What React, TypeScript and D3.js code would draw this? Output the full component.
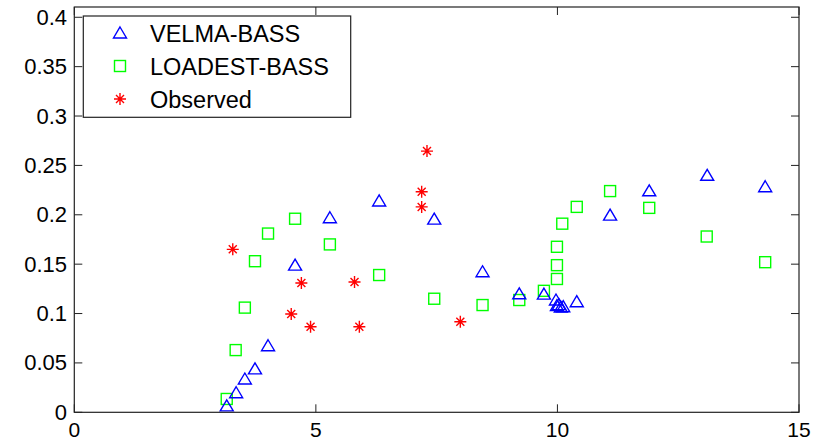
import React from "react";
import * as d3 from "d3";

const velmaX = [3.155, 3.35, 3.53, 3.74, 4.01, 4.57, 5.29, 6.31, 7.45, 8.45, 9.21, 9.72, 9.97, 9.99, 10.03, 10.07, 10.12, 10.4, 11.09, 11.9, 13.1, 14.3];
const velmaY = [0.0065, 0.0198, 0.0337, 0.044, 0.0674, 0.149, 0.197, 0.214, 0.1956, 0.1423, 0.12, 0.1197, 0.1137, 0.108, 0.109, 0.1066, 0.1069, 0.112, 0.1997, 0.2243, 0.24, 0.2284];

const loadestX = [3.155, 3.34, 3.53, 3.74, 4.01, 4.57, 5.29, 6.31, 7.45, 8.45, 9.21, 9.72, 9.99, 9.99, 9.99, 10.1, 10.4, 11.09, 11.9, 13.09, 14.3];
const loadestY = [0.0135, 0.063, 0.106, 0.153, 0.181, 0.196, 0.17, 0.139, 0.115, 0.1086, 0.1137, 0.123, 0.135, 0.149, 0.1676, 0.191, 0.208, 0.224, 0.207, 0.178, 0.152];

const obsX = [3.28, 4.49, 4.7, 4.89, 5.8, 5.9, 7.19, 7.19, 7.3, 7.99];
const obsY = [0.165, 0.0995, 0.131, 0.0867, 0.132, 0.0867, 0.2233, 0.208, 0.2645, 0.0917];

const xTicks = [0, 5, 10, 15];
const yTicks = [0, 0.05, 0.1, 0.15, 0.2, 0.25, 0.3, 0.35, 0.4];
const legendLabels = ["VELMA-BASS", "LOADEST-BASS", "Observed"];

const W = 828;
const H = 443;
const left = 74.3;
const right = 799;
const top = 7;
const bottom = 412.3;
const font = "'Liberation Sans', Arial, sans-serif";

const x = d3.scaleLinear().domain([0, 15]).range([left, right]);
const y = d3.scaleLinear().domain([0, 0.4104]).range([bottom, top]);

const Tri = ({ cx, cy }: { cx: number; cy: number }) => (
  <path
    d={`M${cx},${cy - 6}L${cx + 6.5},${cy + 5}L${cx - 6.5},${cy + 5}Z`}
    fill="none"
    stroke="#0000ff"
    strokeWidth={1.4}
  />
);

const Sq = ({ cx, cy }: { cx: number; cy: number }) => (
  <rect x={cx - 5.5} y={cy - 5.5} width={11} height={11} fill="none" stroke="#00ff00" strokeWidth={1.4} />
);

const Star = ({ cx, cy }: { cx: number; cy: number }) => (
  <path
    d={`M${cx - 6},${cy}H${cx + 6}M${cx},${cy - 6}V${cy + 6}M${cx - 4},${cy - 4}L${cx + 4},${cy + 4}M${cx - 4},${cy + 4}L${cx + 4},${cy - 4}`}
    stroke="#ff0000"
    strokeWidth={1.4}
  />
);

const fmt = (v: number) => (v === 0 ? "0" : String(+v.toFixed(2)));

export default function App() {
  return (
    <svg width={W} height={H} style={{ position: "absolute", left: 0, top: 0, background: "#fff" }}>
      {/* markers */}
      {loadestX.map((v, i) => (
        <Sq key={"s" + i} cx={x(v)} cy={y(loadestY[i])} />
      ))}
      {velmaX.map((v, i) => (
        <Tri key={"t" + i} cx={x(v)} cy={y(velmaY[i])} />
      ))}
      {obsX.map((v, i) => (
        <Star key={"o" + i} cx={x(v)} cy={y(obsY[i])} />
      ))}

      {/* box */}
      <rect x={left} y={top} width={right - left} height={bottom - top} fill="none" stroke="#222" strokeWidth={1.2} />

      {/* ticks */}
      {xTicks.map((t) => (
        <g key={"xt" + t}>
          <line x1={x(t)} x2={x(t)} y1={bottom} y2={bottom - 8} stroke="#222" />
          <line x1={x(t)} x2={x(t)} y1={top} y2={top + 8} stroke="#222" />
          <text x={x(t)} y={437} textAnchor="middle" fontFamily={font} fontSize={21} fill="#000">
            {t}
          </text>
        </g>
      ))}
      {yTicks.map((t) => (
        <g key={"yt" + t}>
          <line x1={left} x2={left + 8} y1={y(t)} y2={y(t)} stroke="#222" />
          <line x1={right} x2={right - 8} y1={y(t)} y2={y(t)} stroke="#222" />
          <text x={67} y={y(t) + 7.5} textAnchor="end" fontFamily={font} fontSize={22} fill="#000">
            {fmt(t)}
          </text>
        </g>
      ))}

      {/* legend */}
      <rect x={83.3} y={16} width={267.4} height={101.3} fill="#fff" stroke="#222" strokeWidth={1.2} />
      {legendLabels.map((lab, i) => {
        const cy = 33 + i * 33;
        return (
          <g key={lab}>
            {i === 0 && <Tri cx={120} cy={cy} />}
            {i === 1 && <Sq cx={120} cy={cy} />}
            {i === 2 && <Star cx={120} cy={cy} />}
            <text x={150} y={cy + 8.5} fontFamily={font} fontSize={23.5} fill="#000">
              {lab}
            </text>
          </g>
        );
      })}
    </svg>
  );
}
